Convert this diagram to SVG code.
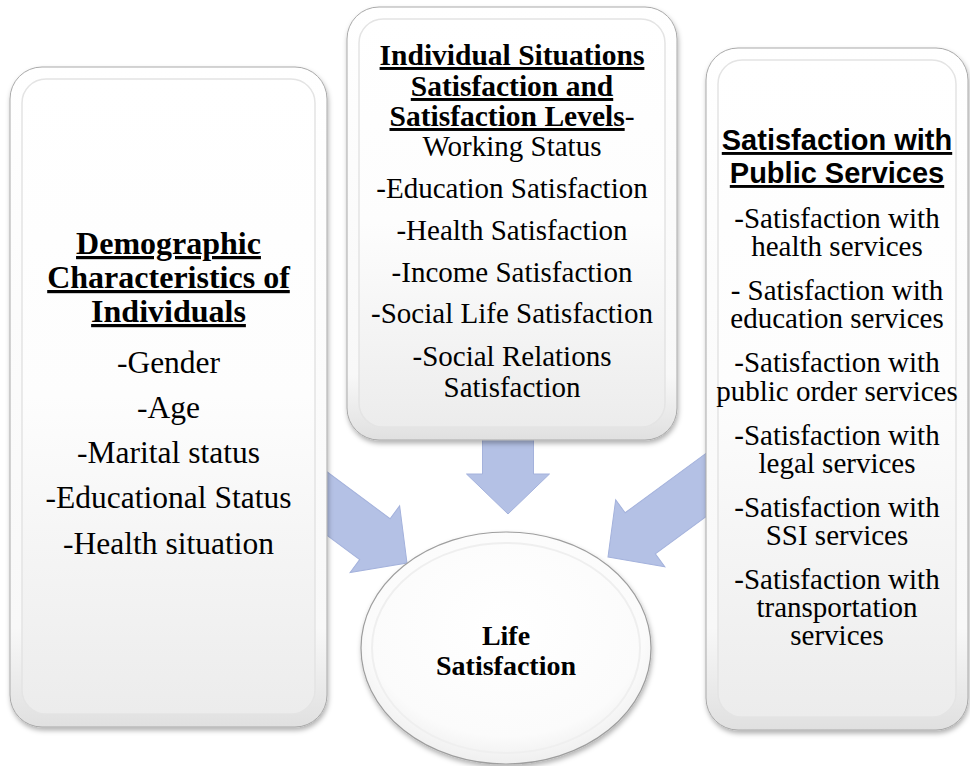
<svg xmlns="http://www.w3.org/2000/svg" width="970" height="766" viewBox="0 0 970 766">
<defs>
<style>
.t{font-family:"Liberation Serif","Times New Roman",serif;fill:#000;text-anchor:middle}
.l{font-size:31.5px}
.lb{font-size:32px;font-weight:bold;text-decoration:underline}
.m{font-size:29px}
.mb{font-size:29.5px;font-weight:bold}
.u{text-decoration:underline}
.r{font-size:29px}
.rb{font-family:"Liberation Sans",Arial,sans-serif;font-size:29px;font-weight:bold;text-decoration:underline;fill:#000;text-anchor:middle}
.c{font-size:28px;font-weight:bold}
.ring{fill:url(#ringG);stroke:#a9a9a9;stroke-width:1;filter:url(#sh)}
.face{fill:url(#faceG);stroke:#e4e4e4;stroke-width:1.5}
.arrow{fill:#b4c1e5;stroke:#a4b2dc;stroke-width:1}
</style>
<linearGradient id="ringG" x1="0" y1="0" x2="0" y2="1">
<stop offset="0" stop-color="#ffffff"/>
<stop offset="0.85" stop-color="#f8f8f8"/>
<stop offset="1" stop-color="#e0e0e0"/>
</linearGradient>
<linearGradient id="faceG" x1="0" y1="0" x2="0" y2="1">
<stop offset="0" stop-color="#ffffff"/>
<stop offset="0.5" stop-color="#fdfdfd"/>
<stop offset="1" stop-color="#ececec"/>
</linearGradient>
<radialGradient id="ellG" cx="0.5" cy="0.4" r="0.6">
<stop offset="0" stop-color="#ffffff"/>
<stop offset="0.8" stop-color="#fbfbfb"/>
<stop offset="1" stop-color="#efefef"/>
</radialGradient>
<filter id="sh" x="-10%" y="-10%" width="120%" height="120%">
<feDropShadow dx="1" dy="3" stdDeviation="2.5" flood-color="#000" flood-opacity="0.3"/>
</filter>
</defs>
<rect width="970" height="766" fill="#ffffff"/>

<g id="connectors">
<path class="arrow" transform="translate(407,563) rotate(36.6)" d="M0,0 L-40,-41.5 L-40,-25.5 L-140,-25.5 L-140,25.5 L-40,25.5 L-40,41.5 Z"/>
<path class="arrow" transform="translate(508,514) rotate(90)" d="M0,0 L-40,-41.5 L-40,-25.5 L-90,-25.5 L-90,25.5 L-40,25.5 L-40,41.5 Z"/>
<path class="arrow" transform="translate(608,557) rotate(143.7)" d="M0,0 L-40,-41.5 L-40,-25.5 L-150,-25.5 L-150,25.5 L-40,25.5 L-40,41.5 Z"/>
</g>

<g id="demographic">
<rect class="ring" x="10" y="67" width="317" height="660" rx="32"/>
<rect class="face" x="22" y="79" width="293" height="635" rx="24"/>
<text class="t lb" x="168.5" y="254">Demographic</text>
<text class="t lb" x="168.5" y="288">Characteristics of</text>
<text class="t lb" x="168.5" y="322">Individuals</text>
<text class="t l" x="168.5" y="373">-Gender</text>
<text class="t l" x="168.5" y="418">-Age</text>
<text class="t l" x="168.5" y="463">-Marital status</text>
<text class="t l" x="168.5" y="508">-Educational Status</text>
<text class="t l" x="168.5" y="554">-Health situation</text>
</g>

<g id="individual">
<rect class="ring" x="347" y="7" width="330" height="433" rx="32"/>
<rect class="face" x="359" y="19" width="306" height="408" rx="24"/>
<text class="t mb" x="512" y="65"><tspan class="u">Individual Situations</tspan></text>
<text class="t mb" x="512" y="96"><tspan class="u">Satisfaction and</tspan></text>
<text class="t mb" x="512" y="126"><tspan class="u">Satisfaction Levels</tspan><tspan font-weight="normal">-</tspan></text>
<text class="t m" x="512" y="156">Working Status</text>
<text class="t m" x="512" y="198">-Education Satisfaction</text>
<text class="t m" x="512" y="240">-Health Satisfaction</text>
<text class="t m" x="512" y="282">-Income Satisfaction</text>
<text class="t m" x="512" y="323">-Social Life Satisfaction</text>
<text class="t m" x="512" y="366">-Social Relations</text>
<text class="t m" x="512" y="397">Satisfaction</text>
</g>

<g id="public">
<rect class="ring" x="706" y="48" width="262" height="682" rx="32"/>
<rect class="face" x="718" y="60" width="238" height="657" rx="24"/>
<text class="rb" x="837" y="150">Satisfaction with</text>
<text class="rb" x="837" y="183">Public Services</text>
<text class="t r" x="837" y="228">-Satisfaction with</text>
<text class="t r" x="837" y="256">health services</text>
<text class="t r" x="837" y="300">- Satisfaction with</text>
<text class="t r" x="837" y="328">education services</text>
<text class="t r" x="837" y="372">-Satisfaction with</text>
<text class="t r" x="837" y="401">public order services</text>
<text class="t r" x="837" y="445">-Satisfaction with</text>
<text class="t r" x="837" y="473">legal services</text>
<text class="t r" x="837" y="517">-Satisfaction with</text>
<text class="t r" x="837" y="545">SSI services</text>
<text class="t r" x="837" y="589">-Satisfaction with</text>
<text class="t r" x="837" y="617">transportation</text>
<text class="t r" x="837" y="645">services</text>
</g>

<g id="life">
<ellipse cx="506" cy="648" rx="145" ry="116" fill="url(#ellG)" stroke="#9e9e9e" stroke-width="1.2" filter="url(#sh)"/>
<ellipse cx="506" cy="648" rx="134" ry="105" fill="none" stroke="#efefef" stroke-width="2"/>
<text class="t c" x="506" y="645">Life</text>
<text class="t c" x="506" y="675">Satisfaction</text>
</g>
</svg>
